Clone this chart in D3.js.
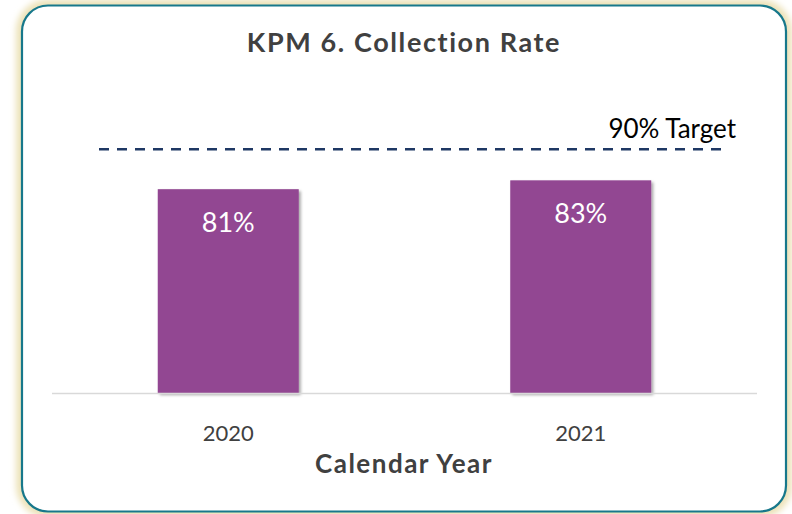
<!DOCTYPE html>
<html>
<head>
<meta charset="utf-8">
<script src="https://cdn.jsdelivr.net/npm/d3@7"></script>
<style>
  html, body { margin: 0; padding: 0; background: #fff; }
  svg { display: block; }
</style>
</head>
<body>
<div id="chart"></div>
<script>
// data
var years = ["2020", "2021"];
var rates = [81, 83];
var target = 90;
var targetLabel = "90% Target";

var W = 792, H = 514;
var plot = {left: 52, right: 757, top: 105, bottom: 393};

var svg = d3.select("#chart").append("svg")
    .attr("width", W)
    .attr("height", H);

var defs = svg.append("defs");

// soft cream glow round the frame
var glow = defs.append("filter").attr("id", "glow")
    .attr("x", "-5%").attr("y", "-5%").attr("width", "110%").attr("height", "110%");
glow.append("feGaussianBlur").attr("stdDeviation", 3);

// bar drop shadow
var sh = defs.append("filter").attr("id", "shadow")
    .attr("x", "-10%").attr("y", "-10%").attr("width", "130%").attr("height", "130%");
sh.append("feDropShadow")
    .attr("dx", 2).attr("dy", 2).attr("stdDeviation", 1.5)
    .attr("flood-color", "#000").attr("flood-opacity", 0.35);

// frame
svg.append("rect")
    .attr("x", 22).attr("y", 5.5).attr("width", 764).attr("height", 506)
    .attr("rx", 26).attr("ry", 26)
    .attr("fill", "none")
    .attr("stroke", "#ece2b8")
    .attr("stroke-width", 12)
    .attr("filter", "url(#glow)");

svg.append("rect")
    .attr("x", 22).attr("y", 5.5).attr("width", 764).attr("height", 506)
    .attr("rx", 26).attr("ry", 26)
    .attr("fill", "#fff")
    .attr("stroke", "none");

svg.append("rect")
    .attr("x", 22).attr("y", 5.5).attr("width", 764).attr("height", 506)
    .attr("rx", 26).attr("ry", 26)
    .attr("fill", "none")
    .attr("stroke", "#17788b")
    .attr("stroke-width", 2.2);

// scales
var x = d3.scaleBand()
    .domain(years)
    .range([plot.left, plot.right])
    .paddingInner(0.6)
    .paddingOuter(0.3);

var y = d3.scaleLinear()
    .domain([35, 100])
    .range([plot.bottom, plot.top]);

var font = "'Gill Sans', 'Gill Sans MT', Lato, 'Open Sans', sans-serif";

// title
svg.append("text")
    .attr("x", 404).attr("y", 52)
    .attr("text-anchor", "middle")
    .style("font-family", font)
    .style("font-weight", "bold")
    .style("font-size", "27px")
    .style("letter-spacing", "1.6px")
    .attr("fill", "#404040")
    .text("KPM 6. Collection Rate");

// bars
svg.selectAll("rect.bar")
    .data(rates)
  .enter().append("rect")
    .attr("class", "bar")
    .attr("x", function(d, i) { return x(years[i]); })
    .attr("y", function(d) { return y(d); })
    .attr("width", x.bandwidth())
    .attr("height", function(d) { return y.range()[0] - y(d); })
    .attr("fill", "#924692")
    .attr("filter", "url(#shadow)");

// baseline
svg.append("line")
    .attr("x1", plot.left).attr("x2", plot.right)
    .attr("y1", plot.bottom + 0.5).attr("y2", plot.bottom + 0.5)
    .attr("stroke", "#d9d9d9")
    .attr("stroke-width", 1.5);

// bar labels
svg.selectAll("text.val")
    .data(rates)
  .enter().append("text")
    .attr("class", "val")
    .attr("x", function(d, i) { return x(years[i]) + x.bandwidth() / 2; })
    .attr("y", function(d) { return y(d) + 43; })
    .attr("text-anchor", "middle")
    .style("font-family", font)
    .style("font-size", "27px")
    .attr("fill", "#fff")
    .text(function(d) { return d + "%"; });

// target line
svg.append("line")
    .attr("x1", 99).attr("x2", 726)
    .attr("y1", y(target)).attr("y2", y(target))
    .attr("stroke", "#1f3864")
    .attr("stroke-width", 2.5)
    .attr("stroke-dasharray", "10,8");

svg.append("text")
    .attr("x", 736).attr("y", 138)
    .attr("text-anchor", "end")
    .style("font-family", font)
    .style("font-size", "26px")
    .attr("fill", "#000")
    .text(targetLabel);

// x axis labels
var xAxis = svg.append("g")
    .attr("transform", "translate(0," + plot.bottom + ")")
    .call(d3.axisBottom(x).tickSize(0).tickPadding(32));
xAxis.select(".domain").remove();
xAxis.selectAll("text")
    .style("font-family", font)
    .style("font-size", "22px")
    .attr("fill", "#404040");

svg.append("text")
    .attr("x", 404).attr("y", 473)
    .attr("text-anchor", "middle")
    .style("font-family", font)
    .style("font-weight", "bold")
    .style("font-size", "26px")
    .style("letter-spacing", "1.5px")
    .attr("fill", "#404040")
    .text("Calendar Year");
</script>
</body>
</html>
